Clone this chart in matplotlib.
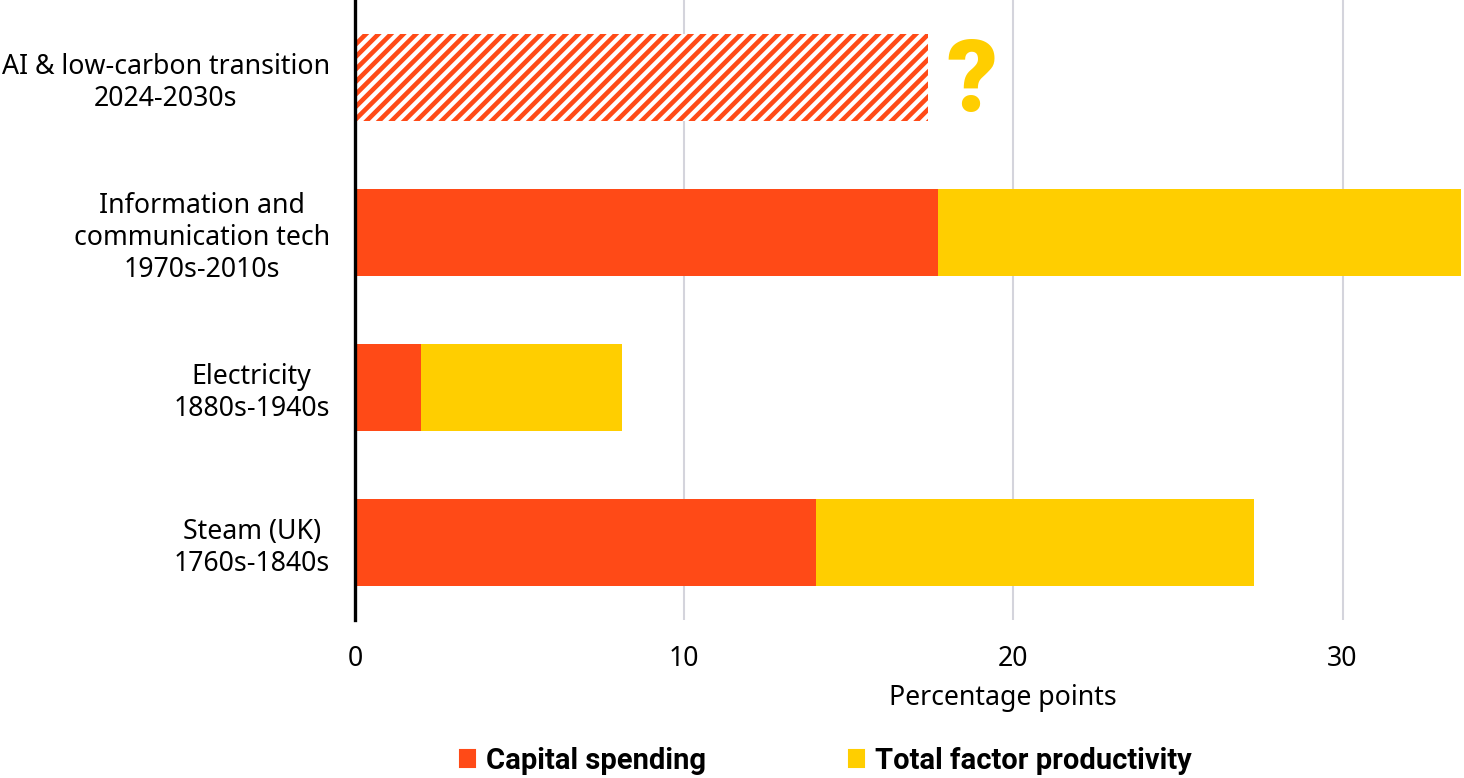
import matplotlib
matplotlib.use("Agg")
import matplotlib.pyplot as plt
from matplotlib.patches import Patch

# Productivity contributions by technology wave (percentage points)
eras = [
    "Steam (UK)\n1760s-1840s",
    "Electricity\n1880s-1940s",
    "Information and\ncommunication tech\n1970s-2010s",
    "AI & low-carbon transition\n2024-2030s",
]
capital = [14.0, 2.0, 17.7, 17.4]
tfp = [13.3, 6.1, 15.9, None]  # unknown for the AI era
xticks = [0, 10, 20, 30]

ORANGE = "#FF4A17"
YELLOW = "#FFCE00"

plt.rcParams["font.family"] = ["Noto Sans", "DejaVu Sans"]
plt.rcParams["hatch.linewidth"] = 2.2

fig = plt.figure(figsize=(9.76, 778 / 150), dpi=150)
ax = fig.add_axes([355 / 1464, 1 - 620 / 778, 1106 / 1464, 620 / 778])

y = list(range(len(eras)))
h = 0.555
for i in y:
    if tfp[i] is None:
        ax.barh(i, capital[i], height=h, color="white", edgecolor=ORANGE,
                hatch="////", linewidth=0, zorder=2)
        ax.text(capital[i] + 1.35, i - 0.04, "?", color=YELLOW, fontsize=48,
                fontweight="black", family="Roboto", ha="center", va="center",
                zorder=3)
    else:
        ax.barh(i, capital[i], height=h, color=ORANGE, linewidth=0, zorder=2)
        ax.barh(i, tfp[i], left=capital[i], height=h, color=YELLOW,
                linewidth=0, zorder=2)

ax.set_xlim(0, 33.6)
ax.set_ylim(-0.5, 3.5)
ax.set_yticks(y)
ax.set_yticklabels(eras, multialignment="center", fontsize=12.8)
ax.set_xticks(xticks)
ax.set_xticklabels([str(t) for t in xticks], fontsize=12.8)
ax.tick_params(axis="y", length=0, pad=12)
ax.tick_params(axis="x", length=0, pad=12)

ax.grid(axis="x", color="#D4D4DC", linewidth=1.0, zorder=0)
for s in ["top", "right", "bottom"]:
    ax.spines[s].set_visible(False)
ax.spines["left"].set_linewidth(1.6)
ax.spines["left"].set_color("black")
ax.spines["left"].set_zorder(4)

ax.set_xlabel("Percentage points", fontsize=12.8)
ax.xaxis.set_label_coords((1003 - 355) / 1106, -(684 - 620) / 620)

handles = [Patch(color=ORANGE, label="Capital spending"),
           Patch(color=YELLOW, label="Total factor productivity")]
fig.legend(handles=handles, loc="center", bbox_to_anchor=(826 / 1464, 1 - 761 / 778),
           ncol=2, frameon=False, handlelength=0.5, handleheight=0.55,
           handletextpad=0.4, columnspacing=4.9,
           prop={"family": "Roboto", "weight": "bold", "size": 14})

fig.savefig("out.png", dpi=150)
